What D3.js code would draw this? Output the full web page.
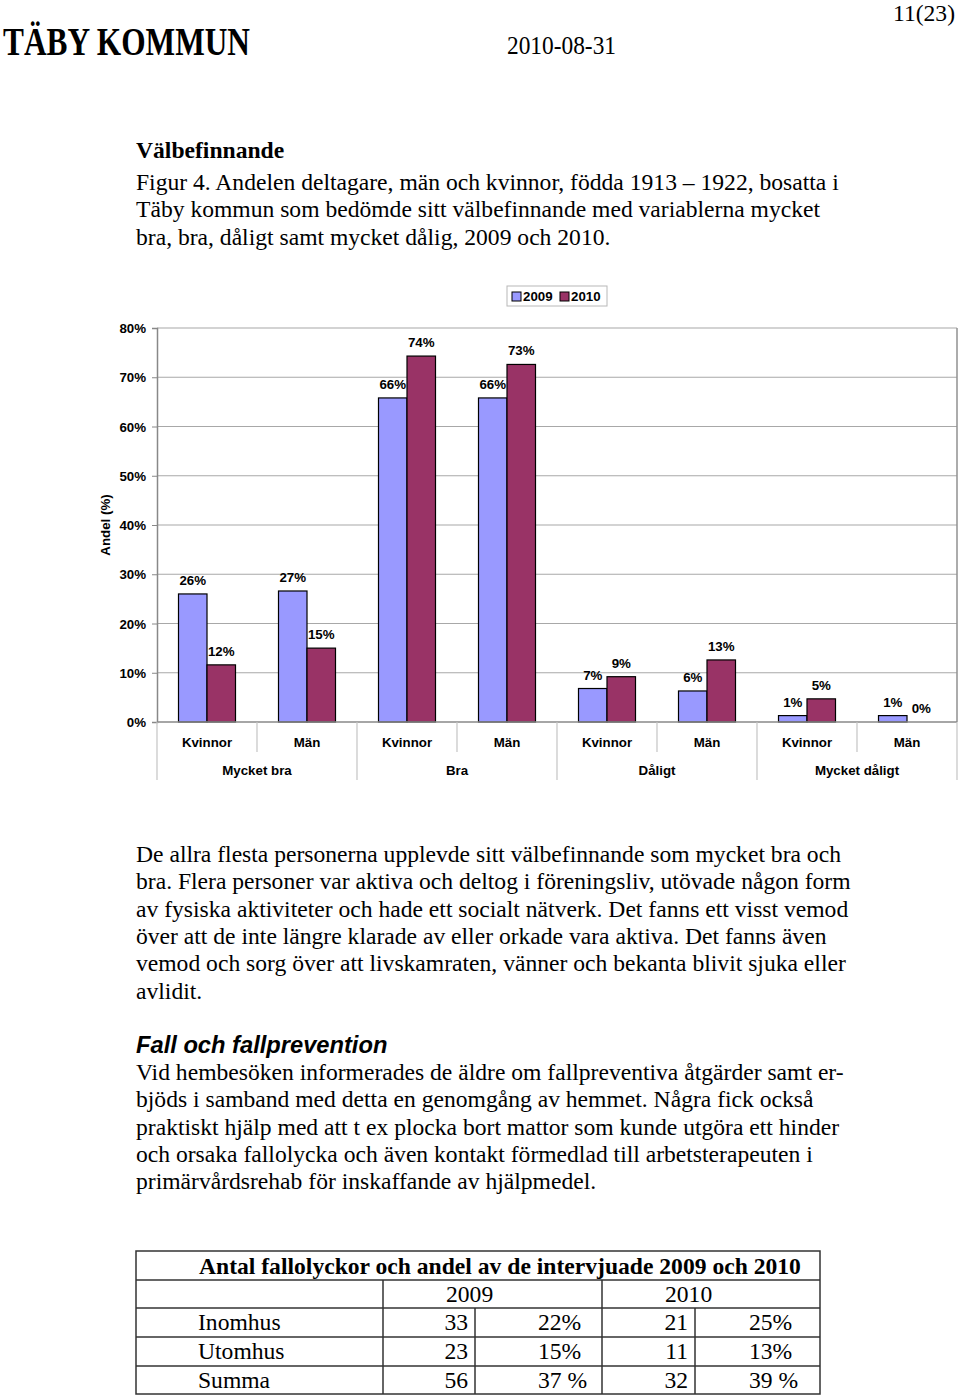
<!DOCTYPE html>
<html>
<head>
<meta charset="utf-8">
<script src="https://cdn.jsdelivr.net/npm/d3@7"></script>
<style>
  html, body { margin: 0; padding: 0; background: #fff; }
  svg { display: block; }
</style>
</head>
<body>
<svg id="page" width="960" height="1398"></svg>
<script>
// ---------------- DATA ----------------
const groups = ["Mycket bra", "Bra", "Dåligt", "Mycket dåligt"];
const genders = ["Kvinnor", "Män"];
const seriesNames = ["2009", "2010"];
const values2009 = [26.0, 26.6, 65.8, 65.8, 6.8, 6.3, 1.3, 1.3];
const values2010 = [11.6, 15.0, 74.3, 72.6, 9.2, 12.6, 4.7, 0.0];
const yTicks = [0, 10, 20, 30, 40, 50, 60, 70, 80];
const seriesColors = ["#9999FF", "#993366"];

const tableTitle = "Antal fallolyckor och andel av de intervjuade 2009 och 2010";
const tableYears = ["2009", "2010"];
const tableRows = ["Inomhus", "Utomhus", "Summa"];
const count2009 = ["33", "23", "56"];
const pct2009 = ["22%", "15%", "37 %"];
const count2010 = ["21", "11", "32"];
const pct2010 = ["25%", "13%", "39 %"];

const captionLines = [
  "Figur 4. Andelen deltagare, män och kvinnor, födda 1913 – 1922, bosatta i",
  "Täby kommun som bedömde sitt välbefinnande med variablerna mycket",
  "bra, bra, dåligt samt mycket dålig, 2009 och 2010."
];
const para1Lines = [
  "De allra flesta personerna upplevde sitt välbefinnande som mycket bra och",
  "bra. Flera personer var aktiva och deltog i föreningsliv, utövade någon form",
  "av fysiska aktiviteter och hade ett socialt nätverk. Det fanns ett visst vemod",
  "över att de inte längre klarade av eller orkade vara aktiva. Det fanns även",
  "vemod och sorg över att livskamraten, vänner och bekanta blivit sjuka eller",
  "avlidit."
];
const para2Lines = [
  "Vid hembesöken informerades de äldre om fallpreventiva åtgärder samt er-",
  "bjöds i samband med detta en genomgång av hemmet. Några fick också",
  "praktiskt hjälp med att t ex plocka bort mattor som kunde utgöra ett hinder",
  "och orsaka fallolycka och även kontakt förmedlad till arbetsterapeuten i",
  "primärvårdsrehab för inskaffande av hjälpmedel."
];

// ---------------- PAGE ----------------
const svg = d3.select("#page");
svg.append("rect").attr("width", 960).attr("height", 1398).attr("fill", "#fff");

const serif = "'Liberation Serif', 'Times New Roman', Times, serif";
const sans = "'Liberation Sans', Arial, Helvetica, sans-serif";

// header
svg.append("text").attr("x", 3).attr("y", 55)
  .attr("font-family", serif).attr("font-weight", "bold").attr("font-size", 39)
  .attr("textLength", 247).attr("lengthAdjust", "spacingAndGlyphs")
  .text("TÄBY KOMMUN");
svg.append("text").attr("x", 507).attr("y", 54)
  .attr("font-family", serif).attr("font-size", 26)
  .attr("textLength", 109).attr("lengthAdjust", "spacingAndGlyphs")
  .text("2010-08-31");
svg.append("text").attr("x", 893).attr("y", 21)
  .attr("font-family", serif).attr("font-size", 24)
  .attr("textLength", 62).attr("lengthAdjust", "spacingAndGlyphs")
  .text("11(23)");

const bodySize = 23.6;
const lineH = 27.3;
svg.append("text").attr("x", 136).attr("y", 158)
  .attr("font-family", serif).attr("font-weight", "bold").attr("font-size", bodySize)
  .text("Välbefinnande");

function writeLines(lines, y0) {
  svg.append("g").selectAll("text").data(lines).join("text")
    .attr("x", 136).attr("y", (d, i) => y0 + i * lineH)
    .attr("font-family", serif).attr("font-size", bodySize)
    .text(d => d);
}
writeLines(captionLines, 190);
writeLines(para1Lines, 862);

svg.append("text").attr("x", 136).attr("y", 1053)
  .attr("font-family", sans).attr("font-weight", "bold").attr("font-style", "italic")
  .attr("font-size", 23.7)
  .text("Fall och fallprevention");
writeLines(para2Lines, 1080);

// ---------------- CHART ----------------
const plot = { left: 157, right: 957, top: 328, bottom: 722 };
const cats = [];
groups.forEach(g => genders.forEach(s => cats.push(g + "|" + s)));

const x = d3.scaleBand().domain(cats).range([plot.left, plot.right]).padding(0);
const xs = d3.scaleBand().domain(seriesNames).range([21.5, 78.5]).padding(0);
const y = d3.scaleLinear().domain([0, 80]).range([plot.bottom, plot.top]);
const gx = d3.scaleBand().domain(groups).range([plot.left, plot.right]).padding(0);

const chart = svg.append("g");
const labelSize = 13.3;

// gridlines
chart.append("g").selectAll("line").data(yTicks.filter(t => t > 0)).join("line")
  .attr("x1", plot.left).attr("x2", plot.right)
  .attr("y1", d => y(d)).attr("y2", d => y(d))
  .attr("stroke", "#a8a8a8").attr("stroke-width", 1.2);

// plot right border
chart.append("line").attr("x1", plot.right).attr("x2", plot.right)
  .attr("y1", plot.top).attr("y2", plot.bottom)
  .attr("stroke", "#909090").attr("stroke-width", 1.5);

// y axis
const yAxis = d3.axisLeft(y).tickValues(yTicks).tickFormat(d => d + "%").tickSize(5).tickPadding(6);
const yg = chart.append("g").attr("transform", `translate(${plot.left},0)`).call(yAxis);
yg.select(".domain").attr("stroke", "#888").attr("stroke-width", 1.5);
yg.selectAll(".tick line").attr("stroke", "#888");
yg.selectAll(".tick text").attr("font-family", sans).attr("font-weight", "bold")
  .attr("font-size", labelSize).attr("fill", "#000").attr("dx", 0).attr("dy", "0.35em");

chart.append("text")
  .attr("transform", `translate(110,525) rotate(-90)`)
  .attr("text-anchor", "middle")
  .attr("font-family", sans).attr("font-weight", "bold").attr("font-size", labelSize)
  .text("Andel (%)");

// bars
const barData = [];
cats.forEach((c, i) => {
  barData.push({ cat: c, s: "2009", v: values2009[i], color: seriesColors[0] });
  barData.push({ cat: c, s: "2010", v: values2010[i], color: seriesColors[1] });
});
chart.append("g").selectAll("rect").data(barData.filter(d => d.v > 0)).join("rect")
  .attr("x", d => x(d.cat) + xs(d.s))
  .attr("width", xs.bandwidth())
  .attr("y", d => y(d.v))
  .attr("height", d => y(0) - y(d.v))
  .attr("fill", d => d.color)
  .attr("stroke", "#000").attr("stroke-width", 1.2);

// data labels
chart.append("g").selectAll("text").data(barData).join("text")
  .attr("x", d => x(d.cat) + xs(d.s) + xs.bandwidth() / 2)
  .attr("y", d => y(d.v) - 9)
  .attr("text-anchor", "middle")
  .attr("font-family", sans).attr("font-weight", "bold").attr("font-size", labelSize)
  .text(d => Math.round(d.v) + "%");

// x axis baseline
chart.append("line").attr("x1", plot.left).attr("x2", plot.right)
  .attr("y1", y(0)).attr("y2", y(0)).attr("stroke", "#888").attr("stroke-width", 1.5);

// separators
const innerSeps = groups.map(g => x(g + "|Män"));
chart.append("g").selectAll("line").data(innerSeps).join("line")
  .attr("x1", d => d).attr("x2", d => d).attr("y1", y(0)).attr("y2", 752)
  .attr("stroke", "#c4c4c4").attr("stroke-width", 1.2);
const outerSeps = groups.map(g => gx(g)).concat([plot.right]);
chart.append("g").selectAll("line").data(outerSeps).join("line")
  .attr("x1", d => d).attr("x2", d => d).attr("y1", y(0)).attr("y2", 780)
  .attr("stroke", "#c4c4c4").attr("stroke-width", 1.2);

// category labels
chart.append("g").selectAll("text").data(cats).join("text")
  .attr("x", d => x(d) + x.bandwidth() / 2).attr("y", 747)
  .attr("text-anchor", "middle")
  .attr("font-family", sans).attr("font-weight", "bold").attr("font-size", labelSize)
  .text(d => d.split("|")[1]);
chart.append("g").selectAll("text").data(groups).join("text")
  .attr("x", d => gx(d) + gx.bandwidth() / 2).attr("y", 775)
  .attr("text-anchor", "middle")
  .attr("font-family", sans).attr("font-weight", "bold").attr("font-size", labelSize)
  .text(d => d);

// legend
const lg = chart.append("g").attr("transform", "translate(507,286)");
lg.append("rect").attr("width", 100).attr("height", 20)
  .attr("fill", "#fff").attr("stroke", "#b8b8b8").attr("stroke-width", 1);
const legX = [5, 53];
seriesNames.forEach((s, i) => {
  lg.append("rect").attr("x", legX[i]).attr("y", 6).attr("width", 9).attr("height", 9)
    .attr("fill", seriesColors[i]).attr("stroke", "#000").attr("stroke-width", 1);
  lg.append("text").attr("x", legX[i] + 11).attr("y", 15)
    .attr("font-family", sans).attr("font-weight", "bold").attr("font-size", labelSize)
    .text(s);
});

// ---------------- TABLE ----------------
const T = { left: 136, right: 820, c1: 383, c2: 475, c3: 602, c4: 695,
  rows: [1251, 1280, 1308, 1337, 1366, 1394] };
const tg = svg.append("g");
const stroke = "#333";
tg.append("rect").attr("x", T.left).attr("y", T.rows[0])
  .attr("width", T.right - T.left).attr("height", T.rows[5] - T.rows[0])
  .attr("fill", "none").attr("stroke", stroke).attr("stroke-width", 1.5);
tg.selectAll("line.h").data(T.rows.slice(1, 5)).join("line")
  .attr("x1", T.left).attr("x2", T.right).attr("y1", d => d).attr("y2", d => d)
  .attr("stroke", stroke).attr("stroke-width", 1.5);
[[T.c1, T.rows[1]], [T.c3, T.rows[1]], [T.c2, T.rows[2]], [T.c4, T.rows[2]]].forEach(([xx, y0]) => {
  tg.append("line").attr("x1", xx).attr("x2", xx).attr("y1", y0).attr("y2", T.rows[5])
    .attr("stroke", stroke).attr("stroke-width", 1.5);
});
tg.append("text").attr("x", 199).attr("y", 1274)
  .attr("font-family", serif).attr("font-weight", "bold").attr("font-size", bodySize)
  .text(tableTitle);
tg.selectAll("text.yr").data(tableYears).join("text")
  .attr("x", (d, i) => [446, 665][i]).attr("y", 1302)
  .attr("font-family", serif).attr("font-size", bodySize)
  .text(d => d);
tableRows.forEach((r, i) => {
  const by = T.rows[i + 2] + 22;
  tg.append("text").attr("x", 198).attr("y", by)
    .attr("font-family", serif).attr("font-size", bodySize).text(r);
  tg.append("text").attr("x", 468).attr("y", by).attr("text-anchor", "end")
    .attr("font-family", serif).attr("font-size", bodySize).text(count2009[i]);
  tg.append("text").attr("x", 538).attr("y", by)
    .attr("font-family", serif).attr("font-size", bodySize).text(pct2009[i]);
  tg.append("text").attr("x", 688).attr("y", by).attr("text-anchor", "end")
    .attr("font-family", serif).attr("font-size", bodySize).text(count2010[i]);
  tg.append("text").attr("x", 749).attr("y", by)
    .attr("font-family", serif).attr("font-size", bodySize).text(pct2010[i]);
});
</script>
</body>
</html>
